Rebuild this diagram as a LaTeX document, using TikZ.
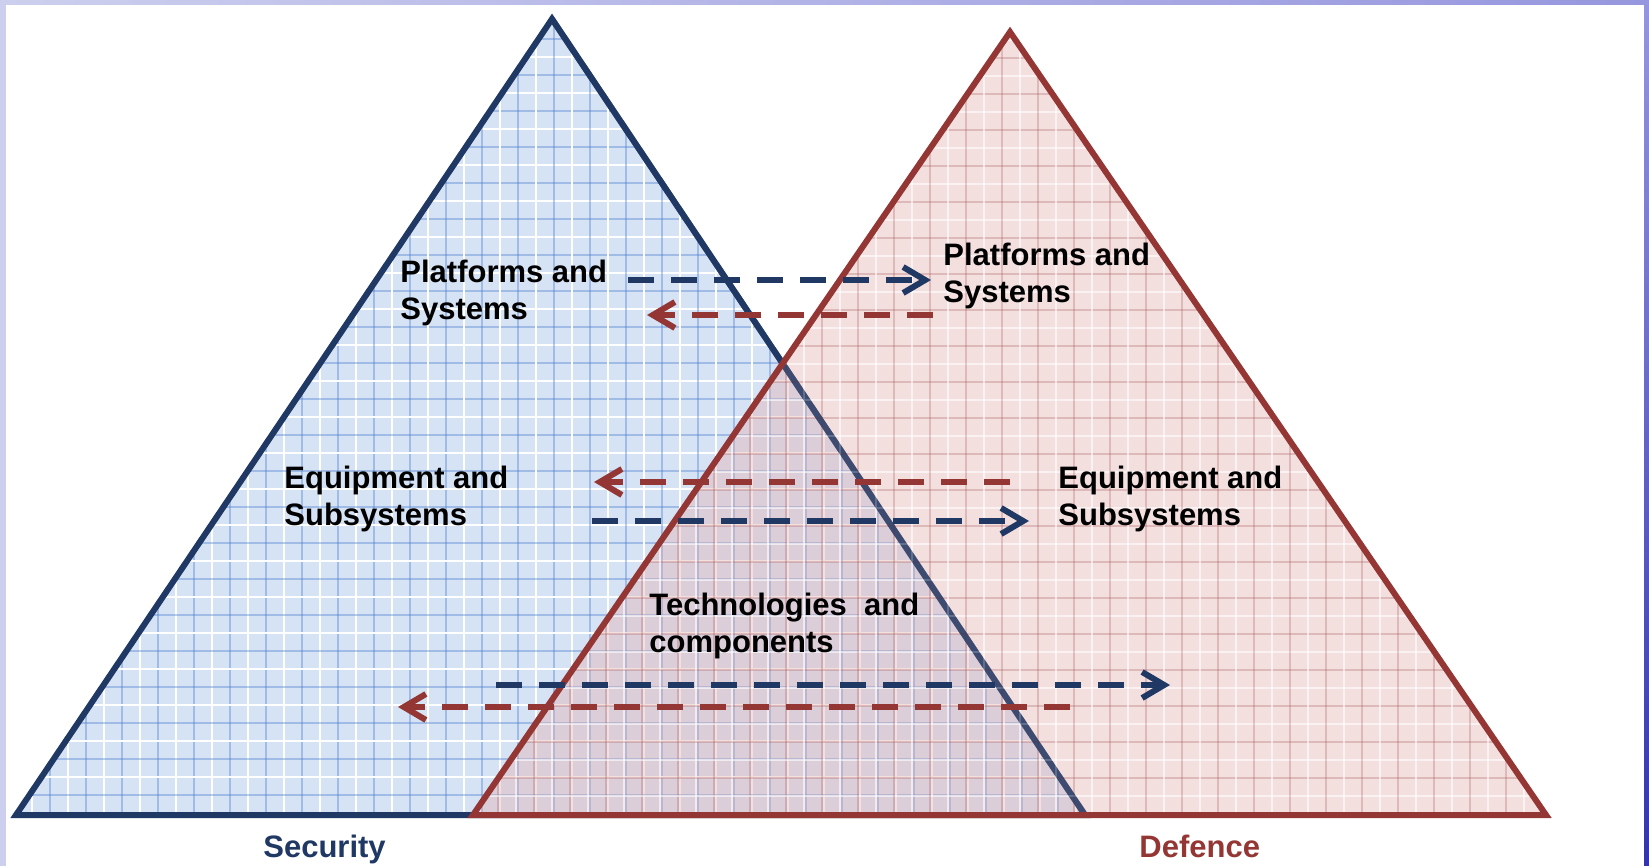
\documentclass[tikz,border=0pt]{standalone}
\usepackage{fontspec}
\setmainfont{Liberation Sans}
\usetikzlibrary{arrows.meta}
\definecolor{secblue}{HTML}{1F3864}
\definecolor{defred}{HTML}{943634}
\definecolor{secfill}{RGB}{214,227,245}
\definecolor{secline}{RGB}{79,129,205}
\definecolor{deffill}{RGB}{228,176,176}
\definecolor{framelav}{RGB}{205,207,238}
\definecolor{frametop}{RGB}{150,150,222}
\begin{document}
\begin{tikzpicture}[x=0.5pt,y=-0.5pt,
    layertext/.style={font=\fontsize{15.5}{18.5}\selectfont\bfseries, align=left, anchor=north west, inner sep=0pt},
    sidetext/.style={font=\fontsize{15.5}{18.5}\selectfont\bfseries, anchor=base west, inner sep=0pt},
    flowarrow/.style={line width=3pt, dash pattern=on 13pt off 8.5pt,
        -{Straight Barb[length=11pt,width=13pt]}}]
        \useasboundingbox (0,0) rectangle (1649,866);
        \fill[framelav] (0,0) rectangle (1649,866);
        \shade[left color=framelav, right color=frametop] (0,0) rectangle (1649,6);
        \shade[top color=frametop, bottom color=blue!60!black!80] (1644,0) rectangle (1649,866);
        \fill[white] (6,5) rectangle (1644,866);
        \coordinate (s-top) at (552,19);
        \coordinate (s-left) at (16,815);
        \coordinate (s-right) at (1085,815);
        \coordinate (d-top) at (1010,32);
        \coordinate (d-left) at (473,815);
        \coordinate (d-right) at (1546,815);
        \fill[secfill] (s-top) -- (s-left) -- (s-right) -- cycle;
        \begin{scope}
            \clip (s-top) -- (s-left) -- (s-right) -- cycle;
            \foreach \k in {0,...,46} {
                \draw[white, line width=1pt] ({32+36*\k},0) -- ({32+36*\k},866);
                \draw[secline, opacity=0.4, line width=1pt] ({14+36*\k},0) -- ({14+36*\k},866);
                \draw[white, line width=1pt] (0,{21+36*\k}) -- (1649,{21+36*\k});
                \draw[secline, opacity=0.4, line width=1pt] (0,{3+36*\k}) -- (1649,{3+36*\k});
            }
        \end{scope}
        \draw[secblue, line width=3pt] (s-top) -- (s-left) -- (s-right) -- cycle;
        \fill[deffill, fill opacity=0.4] (d-top) -- (d-left) -- (d-right) -- cycle;
        \begin{scope}
            \clip (d-top) -- (d-left) -- (d-right) -- cycle;
            \foreach \k in {0,...,46} {
                \draw[white, opacity=0.6, line width=1pt] ({12+36*\k},0) -- ({12+36*\k},866);
                \draw[defred, opacity=0.22, line width=1pt] ({30+36*\k},0) -- ({30+36*\k},866);
                \draw[white, opacity=0.6, line width=1pt] (0,{4+36*\k}) -- (1649,{4+36*\k});
                \draw[defred, opacity=0.22, line width=1pt] (0,{22+36*\k}) -- (1649,{22+36*\k});
            }
        \end{scope}
        \draw[secblue, opacity=0.6, line width=3pt] (s-top) -- (s-right);
        \draw[defred, line width=3pt] (d-top) -- (d-left) -- (d-right) -- cycle;
        \node[layertext] (s-plat) at (400,260) {Platforms and\\Systems};
        \node[layertext] (d-plat) at (943,243) {Platforms and\\Systems};
        \node[layertext] (s-equip) at (284,466) {Equipment and\\Subsystems};
        \node[layertext] (d-equip) at (1058,466) {Equipment and\\Subsystems};
        \node[layertext] (tech) at (649,593) {Technologies\ \ and\\components};
        \node[sidetext, text=secblue] (s-name) at (263,857) {Security};
        \node[sidetext, text=defred] (d-name) at (1139,857) {Defence};
        \coordinate (plat-s) at (628,280);
        \coordinate (plat-d) at (931,280);
        \coordinate (plat-d2) at (933,315);
        \coordinate (plat-s2) at (647,315);
        \coordinate (equip-d) at (1010,482);
        \coordinate (equip-s) at (594,482);
        \coordinate (equip-s2) at (592,521);
        \coordinate (equip-d2) at (1029,521);
        \coordinate (tech-s) at (496,685);
        \coordinate (tech-d) at (1170,685);
        \coordinate (tech-d2) at (1070,707);
        \coordinate (tech-s2) at (398,707);
        \draw[flowarrow, secblue] (plat-s) -- (plat-d);
        \draw[flowarrow, defred] (plat-d2) -- (plat-s2);
        \draw[flowarrow, defred] (equip-d) -- (equip-s);
        \draw[flowarrow, secblue] (equip-s2) -- (equip-d2);
        \draw[flowarrow, secblue] (tech-s) -- (tech-d);
        \draw[flowarrow, defred] (tech-d2) -- (tech-s2);
    \end{tikzpicture}
\end{document}
